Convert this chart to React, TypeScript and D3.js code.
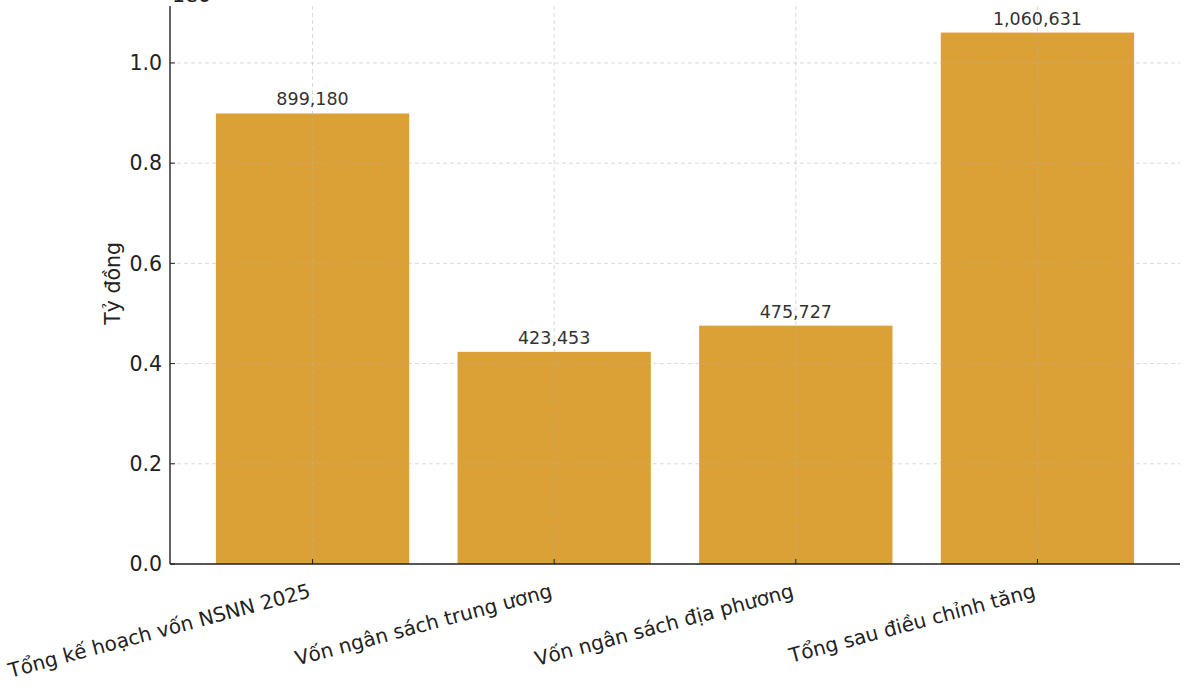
import React from 'react';
import * as d3 from 'd3';

const categories = [
  'Tổng kế hoạch vốn NSNN 2025',
  'Vốn ngân sách trung ương',
  'Vốn ngân sách địa phương',
  'Tổng sau điều chỉnh tăng',
];
const values = [899180, 423453, 475727, 1060631];
const yTicks = [0, 0.2, 0.4, 0.6, 0.8, 1.0];

const W = 1200;
const H = 688;
const margin = { top: 6, right: 20, bottom: 124, left: 170 };
const FONT = 'DejaVu Sans, sans-serif';

export default function App() {
  const innerW = W - margin.left - margin.right;
  const innerH = H - margin.top - margin.bottom;

  // matplotlib-like margins: bars at 0..n-1, width 0.8, 5% padding
  const n = categories.length;
  const x = d3.scaleLinear().domain([-0.59, n - 1 + 0.59]).range([0, innerW]);
  const yMax = (d3.max(values) as number) / 1e6 * 1.05;
  const y = d3.scaleLinear().domain([0, yMax]).range([innerH, 0]);
  const bw = x(0.8) - x(0);
  const fmt = d3.format(',');

  return (
    <svg width={W} height={H} style={{ display: 'block', position: 'absolute', left: 0, top: 0 }} fontFamily={FONT}>
      <rect width={W} height={H} fill="#fff" />
      <g transform={`translate(${margin.left},${margin.top})`}>
        {categories.map((c, i) => (
          <rect key={c} x={x(i) - bw / 2} y={y(values[i] / 1e6)} width={bw}
            height={innerH - y(values[i] / 1e6)} fill="#DBA137" />
        ))}
        {/* grid over bars */}
        {yTicks.map(t => (
          <line key={t} x1={0} x2={innerW} y1={y(t)} y2={y(t)} stroke="#b0b0b0"
            strokeOpacity={0.6} strokeDasharray="4,3" strokeWidth={0.8} />
        ))}
        {categories.map((c, i) => (
          <line key={c} x1={x(i)} x2={x(i)} y1={0} y2={innerH} stroke="#b0b0b0"
            strokeOpacity={0.6} strokeDasharray="4,3" strokeWidth={0.8} />
        ))}
        {categories.map((c, i) => (
          <text key={c} x={x(i)} y={y(values[i] / 1e6) - 8} textAnchor="middle"
            fontSize={17.5} fill="#333">{fmt(values[i])}</text>
        ))}
        {/* spines */}
        <line x1={0} x2={0} y1={0} y2={innerH} stroke="#222" strokeWidth={1.4} />
        <line x1={0} x2={innerW} y1={innerH} y2={innerH} stroke="#222" strokeWidth={1.4} />
        {yTicks.map(t => (
          <g key={t}>
            <line x1={0} x2={5} y1={y(t)} y2={y(t)} stroke="#222" strokeWidth={1} />
            <text x={-8} y={y(t)} dy="0.35em" textAnchor="end" fontSize={20.5} fill="#222">{t.toFixed(1)}</text>
          </g>
        ))}
        {categories.map((c, i) => (
          <g key={c}>
            <line x1={x(i)} x2={x(i)} y1={innerH} y2={innerH - 5} stroke="#222" strokeWidth={1} />
            <text transform={`translate(${x(i) - 1},${innerH + 33}) rotate(-15)`} textAnchor="end"
              fontSize={20} fill="#222">{c}</text>
          </g>
        ))}
        <text x={2} y={-4} fontSize={20.5} fill="#222">1e6</text>
        <text transform={`translate(${-50},${y(0.56)}) rotate(-90)`} textAnchor="middle"
          fontSize={20.5} fill="#222">Tỷ đồng</text>
      </g>
    </svg>
  );
}
